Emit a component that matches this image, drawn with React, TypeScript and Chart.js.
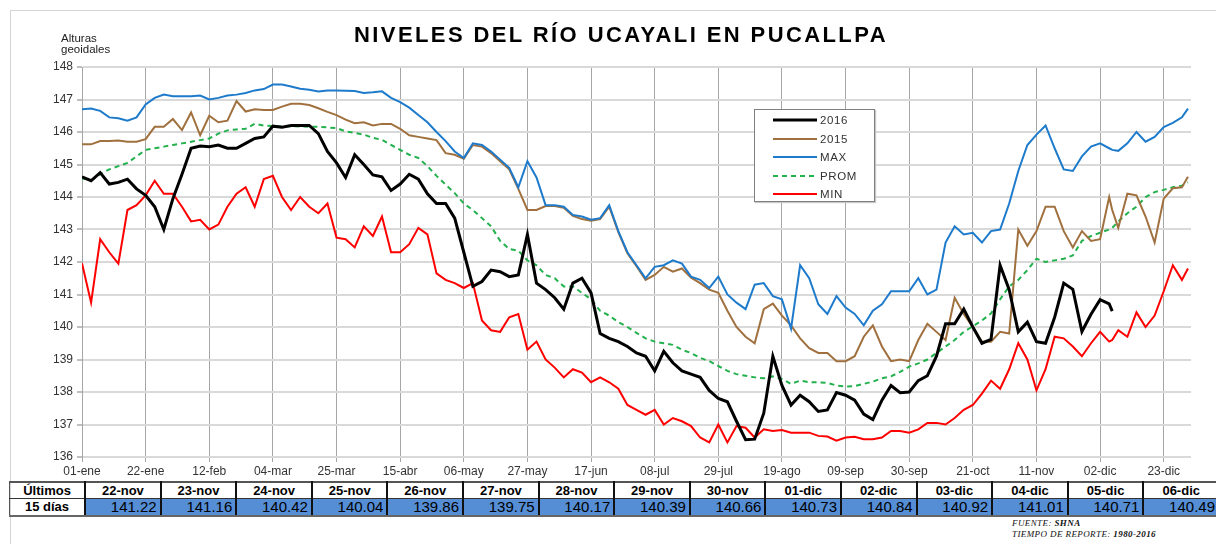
import React, { useEffect, useRef } from "react";
import { Chart, registerables } from "chart.js";

Chart.register(...registerables);

const FONT = "'Liberation Sans', Arial, Helvetica, sans-serif";

// day of year (0 = 01-ene, 2016)
const days = [
  0, 3, 6, 9, 12, 15, 18, 21, 24, 27,
  30, 33, 36, 39, 42, 45, 48, 51, 54, 57,
  60, 63, 66, 69, 72, 75, 78, 81, 84, 87,
  90, 93, 96, 99, 102, 105, 108, 111, 114, 117,
  120, 123, 126, 129, 132, 135, 138, 141, 144, 147,
  150, 153, 156, 159, 162, 165, 168, 171, 174, 177,
  180, 183, 186, 189, 192, 195, 198, 201, 204, 207,
  210, 213, 216, 219, 222, 225, 228, 231, 234, 237,
  240, 243, 246, 249, 252, 255, 258, 261, 264, 267,
  270, 273, 276, 279, 282, 285, 288, 291, 294, 297,
  300, 303, 306, 309, 312, 315, 318, 321, 324, 327,
  330, 333, 336, 339, 340, 342, 345, 348, 351, 354,
  357, 360, 363, 365,
];

const maxLevel = [
  146.7, 146.72, 146.65, 146.45, 146.42, 146.35, 146.45, 146.85, 147.05, 147.15,
  147.1, 147.1, 147.1, 147.12, 147.0, 147.05, 147.12, 147.15, 147.2, 147.28,
  147.32, 147.46, 147.46, 147.4, 147.33, 147.3, 147.25, 147.28, 147.28, 147.27,
  147.26, 147.2, 147.22, 147.25, 147.05, 146.92, 146.75, 146.52, 146.3, 146.0,
  145.72, 145.4, 145.2, 145.65, 145.6, 145.4, 145.15, 144.9, 144.3, 145.1,
  144.6, 143.75, 143.75, 143.7, 143.45, 143.4, 143.3, 143.35, 143.75, 142.95,
  142.3, 141.9, 141.5, 141.85, 141.9, 142.05, 141.95, 141.55, 141.45, 141.2,
  141.55, 141.0, 140.75, 140.55, 141.3, 141.35, 140.95, 140.85, 139.95, 141.9,
  141.5, 140.7, 140.4, 140.95, 140.6, 140.4, 140.05, 140.5, 140.7, 141.1,
  141.1, 141.1, 141.5, 141.0, 141.15, 142.6, 143.1, 142.85, 142.9, 142.6,
  142.95, 143.0, 143.8, 144.8, 145.6, 145.92, 146.2, 145.5, 144.85, 144.8,
  145.25, 145.55, 145.65, 145.5, 145.45, 145.42, 145.65, 146.0, 145.7, 145.85,
  146.15, 146.28, 146.45, 146.72,
];

const y2015 = [
  145.62, 145.62, 145.72, 145.72, 145.74, 145.7, 145.7, 145.78, 146.16, 146.16,
  146.4, 146.06, 146.6, 145.9, 146.5, 146.3, 146.35, 146.95, 146.63, 146.7,
  146.68, 146.68, 146.78, 146.87, 146.87, 146.83, 146.73, 146.62, 146.52, 146.38,
  146.27, 146.3, 146.2, 146.25, 146.25, 146.1, 145.9, 145.85, 145.8, 145.75,
  145.35, 145.3, 145.18, 145.6, 145.55, 145.35, 145.1, 144.85, 144.25, 143.6,
  143.6, 143.72, 143.72, 143.67, 143.42, 143.32, 143.27, 143.32, 143.7, 142.92,
  142.27, 141.87, 141.45, 141.6, 141.85, 141.7, 141.8, 141.52, 141.35, 141.15,
  141.05, 140.5, 140.0, 139.7, 139.5, 140.55, 140.72, 140.35, 140.05, 139.65,
  139.35, 139.2, 139.2, 138.95, 138.95, 139.1, 139.7, 140.05, 139.4, 138.95,
  139.0, 138.95, 139.6, 140.1, 139.85, 139.6, 140.9, 140.4, 140.0, 139.55,
  139.55, 139.85, 139.8, 143.0, 142.5, 142.95, 143.7, 143.7, 142.95, 142.45,
  142.95, 142.65, 142.7, 144.0, 143.6, 143.05, 144.1, 144.05, 143.4, 142.6,
  143.95, 144.27, 144.3, 144.62,
];

const promLevel = [
  144.57, 144.52, 144.7, 144.85, 144.95, 145.05, 145.25, 145.45, 145.5, 145.55,
  145.6, 145.65, 145.7, 145.75, 145.8, 145.95, 146.05, 146.08, 146.1, 146.25,
  146.2, 146.18, 146.18, 146.18, 146.17, 146.16, 146.16, 146.14, 146.12, 146.02,
  145.97, 145.92, 145.82, 145.76, 145.6, 145.45, 145.3, 145.2, 144.95, 144.65,
  144.38, 144.12, 143.8, 143.6, 143.35, 143.1, 142.65, 142.4, 142.35, 142.05,
  141.9, 141.6, 141.5, 141.25, 141.25, 141.05, 140.85, 140.5, 140.35, 140.15,
  140.0, 139.82, 139.65, 139.55, 139.5, 139.45, 139.3, 139.2, 139.05, 138.95,
  138.8, 138.65, 138.55, 138.5, 138.45, 138.42, 138.48, 138.4, 138.25, 138.35,
  138.3, 138.3, 138.28, 138.2, 138.17, 138.18, 138.25, 138.32, 138.42, 138.48,
  138.62, 138.78, 138.88, 139.0, 139.2, 139.4, 139.6, 139.85, 140.02, 140.2,
  140.42, 140.85, 141.25, 141.45, 141.75, 142.1, 142.0, 142.05, 142.1, 142.2,
  142.65, 142.8, 142.9, 143.0, 143.05, 143.25, 143.5, 143.7, 144.0, 144.15,
  144.22, 144.3, 144.35, 144.45,
];

const minLevel = [
  141.96, 140.75, 142.7, 142.3, 141.95, 143.6, 143.75, 144.05, 144.5, 144.1,
  144.1, 143.7, 143.25, 143.3, 143.0, 143.15, 143.7, 144.1, 144.3, 143.7,
  144.55, 144.65, 144.0, 143.6, 144.0, 143.7, 143.5, 143.8, 142.75, 142.7,
  142.45, 143.1, 142.8, 143.4, 142.3, 142.3, 142.55, 143.05, 142.85, 141.65,
  141.45, 141.35, 141.2, 141.35, 140.2, 139.9, 139.85, 140.3, 140.4, 139.3,
  139.55, 139.0, 138.75, 138.45, 138.7, 138.6, 138.3, 138.45, 138.3, 138.1,
  137.6, 137.45, 137.3, 137.45, 137.0, 137.2, 137.1, 136.95, 136.6, 136.45,
  137.0, 136.45, 136.95, 136.9, 136.6, 136.85, 136.8, 136.83, 136.75, 136.75,
  136.75, 136.65, 136.63, 136.5, 136.6, 136.62, 136.55, 136.55, 136.6, 136.8,
  136.8, 136.75, 136.85, 137.05, 137.05, 137.0, 137.2, 137.45, 137.6, 137.95,
  138.35, 138.1, 138.7, 139.5, 139.0, 138.05, 138.7, 139.7, 139.65, 139.4,
  139.1, 139.5, 139.85, 139.55, 139.6, 139.9, 139.7, 140.45, 140.0, 140.35,
  141.1, 141.9, 141.45, 141.8,
];

// 2016 data ends on 06-dic (day 340)
const y2016 = [
  144.62, 144.5, 144.75, 144.4, 144.45, 144.55, 144.25, 144.05, 143.7, 143.0,
  143.95, 144.7, 145.5, 145.57, 145.55, 145.6, 145.5, 145.5, 145.65, 145.8,
  145.85, 146.18, 146.15, 146.2, 146.2, 146.2, 145.95, 145.4, 145.05, 144.6,
  145.3, 145.0, 144.68, 144.62, 144.2, 144.4, 144.7, 144.55, 144.1, 143.8,
  143.8, 143.35, 142.3, 141.25, 141.4, 141.75, 141.7, 141.55, 141.6, 142.85,
  141.35, 141.15, 140.9, 140.55, 141.35, 141.5, 141.05, 139.8, 139.65, 139.55,
  139.4, 139.2, 139.1, 138.65, 139.25, 138.9, 138.65, 138.55, 138.45, 138.05,
  137.8, 137.7, 137.1, 136.53, 136.55, 137.35, 139.1, 138.2, 137.6, 137.9,
  137.7, 137.4, 137.45, 137.98, 137.9, 137.75, 137.32, 137.15, 137.75, 138.2,
  137.98, 138.0, 138.35, 138.5, 139.1, 140.1, 140.1, 140.55, 140.0, 139.5,
  139.62, 141.9, 141.15, 139.85, 140.15, 139.55, 139.5, 140.3, 141.35, 141.16,
  139.86, 140.39, 140.84, 140.71, 140.49,
];

const xTickLabels = [
  "01-ene", "22-ene", "12-feb", "04-mar", "25-mar", "15-abr", "06-may", "27-may", "17-jun",
  "08-jul", "29-jul", "19-ago", "09-sep", "30-sep", "21-oct", "11-nov", "02-dic", "23-dic",
];
const xTickStep = 21;

const tableDates = [
  "22-nov", "23-nov", "24-nov", "25-nov", "26-nov", "27-nov", "28-nov", "29-nov",
  "30-nov", "01-dic", "02-dic", "03-dic", "04-dic", "05-dic", "06-dic",
];
const tableValues = [
  141.22, 141.16, 140.42, 140.04, 139.86, 139.75, 140.17, 140.39,
  140.66, 140.73, 140.84, 140.92, 141.01, 140.71, 140.49,
];

const seriesNames = ["2016", "2015", "MAX", "PROM", "MIN"];
const seriesColors = ["#000000", "#A0703F", "#1E7BCB", "#22B14C", "#FF0000"];
const seriesWidths = [3, 2, 2, 2, 2];

function points(values: (number | null)[]) {
  const out: { x: number; y: number }[] = [];
  for (let i = 0; i < days.length; i++) {
    const v = values[i];
    if (v !== null && v !== undefined) out.push({ x: days[i], y: v });
  }
  return out;
}

export default function App() {
  const ref = useRef<HTMLCanvasElement>(null);

  useEffect(() => {
    const all = [y2016, y2015, maxLevel, promLevel, minLevel];
    const orders = [0, 2, 1, 3, 4];
    const datasets = all.map((vals, i) => ({
      label: seriesNames[i],
      data: points(vals),
      borderColor: seriesColors[i],
      backgroundColor: seriesColors[i],
      borderWidth: seriesWidths[i],
      borderDash: seriesNames[i] === "PROM" ? [5, 4] : [],
      pointRadius: 0,
      tension: 0,
      fill: false,
      order: orders[i],
    }));

    const chart = new Chart(ref.current as HTMLCanvasElement, {
      type: "line",
      data: { datasets },
      options: {
        animation: false,
        responsive: false,
        devicePixelRatio: 1,
        layout: { padding: { top: 67, right: 25, bottom: 0, left: 0 } },
        plugins: {
          legend: { display: false },
          tooltip: { enabled: false },
          title: { display: false },
        },
        scales: {
          x: {
            type: "linear",
            min: 0,
            max: 366,
            afterBuildTicks: (scale: any) => {
              scale.ticks = xTickLabels.map((_, i) => ({ value: i * xTickStep }));
            },
            afterFit: (scale: any) => {
              scale.height = 23;
            },
            ticks: {
              autoSkip: false,
              maxRotation: 0,
              color: "#333333",
              font: { family: FONT, size: 12 },
              padding: 2,
              callback: (v: any) => xTickLabels[Math.round(Number(v) / xTickStep)] ?? "",
            },
            grid: { color: "#a6a6a6", lineWidth: 1, tickLength: 5, tickColor: "#a6a6a6" },
            border: { display: false },
          },
          y: {
            min: 136,
            max: 148,
            afterFit: (scale: any) => {
              scale.width = 82;
            },
            ticks: {
              stepSize: 1,
              color: "#333333",
              font: { family: FONT, size: 12 },
              padding: 4,
            },
            grid: { color: "#d9d9d9", lineWidth: 2, tickLength: 5, tickColor: "#bfbfbf" },
            border: { color: "#a6a6a6", width: 1 },
          },
        },
      } as any,
    });
    return () => chart.destroy();
  }, []);

  const colW = 75.6;
  const cellBase: React.CSSProperties = {
    boxSizing: "border-box",
    padding: 0,
    whiteSpace: "nowrap",
    fontFamily: FONT,
    color: "#000",
  };

  return (
    <div
      style={{
        position: "absolute",
        left: 0,
        top: 0,
        width: 1216,
        height: 544,
        overflow: "hidden",
        background: "#ffffff",
        fontFamily: FONT,
      }}
    >
      <div
        style={{
          position: "absolute",
          left: 10,
          top: 10,
          width: 1300,
          height: 600,
          borderLeft: "1px solid #d4d4d4",
          borderTop: "1px solid #d4d4d4",
        }}
      />
      <canvas
        ref={ref}
        width={1216}
        height={480}
        style={{ position: "absolute", left: 0, top: 0, width: 1216, height: 480 }}
      />
      <div
        style={{
          position: "absolute",
          left: 221,
          top: 22,
          width: 800,
          textAlign: "center",
          fontWeight: "bold",
          fontSize: 22,
          letterSpacing: 2.4,
          color: "#000",
          lineHeight: "26px",
        }}
      >
        NIVELES DEL RÍO UCAYALI EN PUCALLPA
      </div>
      <div
        style={{
          position: "absolute",
          left: 61,
          top: 33,
          fontSize: 11.5,
          lineHeight: "11px",
          color: "#222",
        }}
      >
        Alturas
        <br />
        geoidales
      </div>

      <div
        style={{
          position: "absolute",
          left: 754,
          top: 109,
          width: 121,
          height: 93,
          boxSizing: "border-box",
          border: "1px solid #7f7f7f",
          background: "#ffffff",
          boxShadow: "1px 1px 1px #c8c8c8",
        }}
      >
        {seriesNames.map((name, i) => {
          const cy = 10 + i * 18.6;
          return (
            <React.Fragment key={name}>
              <svg
                width={46}
                height={8}
                style={{ position: "absolute", left: 17, top: cy - 4 }}
              >
                <line
                  x1={1}
                  y1={4}
                  x2={45}
                  y2={4}
                  stroke={seriesColors[i]}
                  strokeWidth={seriesWidths[i]}
                  strokeDasharray={name === "PROM" ? "5 4" : undefined}
                />
              </svg>
              <div
                style={{
                  position: "absolute",
                  left: 65,
                  top: cy - 7,
                  fontSize: 11.5,
                  lineHeight: "14px",
                  color: "#333",
                  letterSpacing: 0.6,
                }}
              >
                {name}
              </div>
            </React.Fragment>
          );
        })}
      </div>

      <table
        style={{
          position: "absolute",
          left: 9,
          top: 481,
          borderCollapse: "collapse",
          tableLayout: "fixed",
          width: colW * 16,
        }}
      >
        <tbody>
          <tr style={{ height: 16 }}>
            <td
              style={{
                ...cellBase,
                width: colW,
                borderTop: "2px solid #555",
                borderLeft: "1px solid #555",
                borderRight: "2px solid #111",
                borderBottom: "1px solid #333",
                fontWeight: "bold",
                fontSize: 13,
                textAlign: "center",
                lineHeight: "14px",
                paddingTop: 1,
              }}
            >
              Últimos
            </td>
            {tableDates.map((d) => (
              <td
                key={d}
                style={{
                  ...cellBase,
                  width: colW,
                  borderTop: "2px solid #555",
                  borderRight: "2px solid #111",
                  borderBottom: "1px solid #333",
                  fontWeight: "bold",
                  fontSize: 13,
                  textAlign: "center",
                  lineHeight: "14px",
                  background: "#ffffff",
                }}
              >
                {d}
              </td>
            ))}
          </tr>
          <tr style={{ height: 17 }}>
            <td
              style={{
                ...cellBase,
                borderLeft: "1px solid #555",
                borderRight: "2px solid #111",
                borderBottom: "2px solid #666",
                fontWeight: "bold",
                fontSize: 13,
                textAlign: "center",
                lineHeight: "15px",
              }}
            >
              15 días
            </td>
            {tableValues.map((v, i) => (
              <td
                key={i}
                style={{
                  ...cellBase,
                  borderRight: "2px solid #111",
                  borderBottom: "2px solid #666",
                  fontSize: 15,
                  textAlign: "right",
                  paddingRight: 3,
                  lineHeight: "15px",
                  background: "#558ED5",
                  overflow: "hidden",
                }}
              >
                {v.toFixed(2)}
              </td>
            ))}
          </tr>
        </tbody>
      </table>

      <div
        style={{
          position: "absolute",
          left: 1012,
          top: 518,
          fontFamily: "'Liberation Serif', 'DejaVu Serif', serif",
          fontStyle: "italic",
          fontSize: 9,
          lineHeight: "11px",
          color: "#111",
          letterSpacing: 0.4,
          whiteSpace: "nowrap",
        }}
      >
        FUENTE: <b>SHNA</b>
        <br />
        TIEMPO DE REPORTE: <b>1980-2016</b>
      </div>
    </div>
  );
}
